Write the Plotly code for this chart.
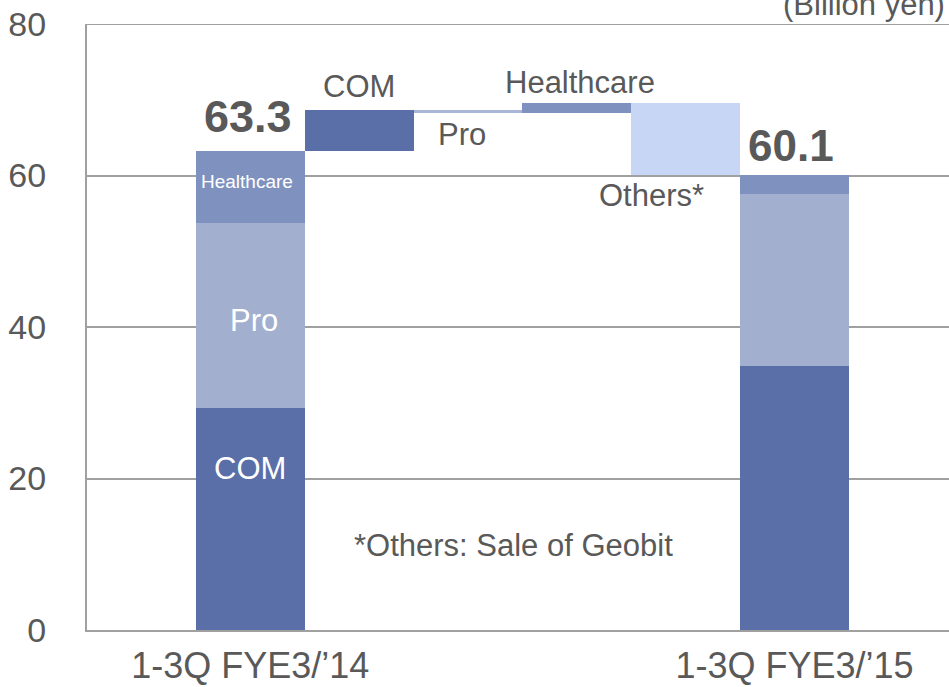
import plotly.graph_objects as go

# ---- data ----
categories = ["1-3Q FYE3/’14", "COM", "Pro", "Healthcare", "Others*", "1-3Q FYE3/’15"]
segments = ["COM", "Pro", "Healthcare"]
start_values = [29.3, 24.4, 9.6]      # 1-3Q FYE3/'14 breakdown (total 63.3)
end_values = [34.8, 22.7, 2.6]        # 1-3Q FYE3/'15 breakdown (total 60.1)
change_labels = ["COM", "Pro", "Healthcare", "Others*"]
change_values = [5.4, -0.4, 1.3, -9.5]
start_total_label = "63.3"
end_total_label = "60.1"
y_ticks = [0, 20, 40, 60, 80]

seg_colors = {"COM": "#5A6EA8", "Pro": "#A2AFCF", "Healthcare": "#7F92BF"}
change_colors = ["#5A6EA8", "#A9B5D6", "#7F92BF", "#C8D6F6"]
FONT = "Liberation Sans, Arial, sans-serif"
TXT = "#595959"
LINE = "#a0a0a0"

fig = go.Figure()

# stacked start / end bars
base_s, base_e = 0.0, 0.0
for seg, sv, ev in zip(segments, start_values, end_values):
    fig.add_trace(go.Bar(x=[0, 5], y=[sv, ev], base=[base_s, base_e],
                         width=1.0, marker=dict(color=seg_colors[seg], line=dict(width=0)),
                         showlegend=False, hoverinfo="skip"))
    base_s += sv
    base_e += ev

# floating change bars
level = sum(start_values)
for i, (lab, ch) in enumerate(zip(change_labels, change_values)):
    new_level = level + ch
    fig.add_trace(go.Bar(x=[i + 1], y=[abs(ch)], base=[min(level, new_level)],
                         width=1.0, marker=dict(color=change_colors[i], line=dict(width=0)),
                         showlegend=False, hoverinfo="skip"))
    level = new_level

def ann(x, y, text, size, color=TXT, bold=False, xref="x", yref="y", xanchor="center", yanchor="middle"):
    fig.add_annotation(x=x, y=y, xref=xref, yref=yref, text=f"<b>{text}</b>" if bold else text,
                       showarrow=False, xanchor=xanchor, yanchor=yanchor,
                       font=dict(family=FONT, size=size, color=color))

# totals
ann(-0.02, 67.8, start_total_label, 45, bold=True)
ann(4.97, 63.9, end_total_label, 44, bold=True)
# change labels
ann(1.0, 71.8, "COM", 31)
ann(1.95, 65.4, "Pro", 31)
ann(3.03, 72.3, "Healthcare", 31)
ann(3.69, 57.4, "Others*", 31)
# inside bar labels
ann(-0.03, 59.2, "Healthcare", 19, color="white")
ann(0.03, 40.8, "Pro", 31, color="white")
ann(0.0, 21.3, "COM", 31, color="white")
# footnote
ann(2.42, 11.1, "*Others: Sale of Geobit", 31)
# unit
ann(0.805, 1.033, "(Billion yen)", 31, xref="paper", yref="paper", xanchor="left")

# top frame line at 80
fig.add_shape(type="line", xref="paper", yref="y", x0=0, x1=1, y0=80, y1=80,
              line=dict(color=LINE, width=2))

fig.update_layout(
    width=949, height=687,
    margin=dict(l=87, r=0, t=24, b=57, autoexpand=False),
    paper_bgcolor="white", plot_bgcolor="white",
    barmode="overlay", bargap=0,
    font=dict(family=FONT, color=TXT),
    showlegend=False,
)
fig.update_xaxes(range=[-1.5, 6.42], tickvals=[0, 5], ticktext=[categories[0], categories[5]],
                 tickfont=dict(size=36, color=TXT, family=FONT), showgrid=False, zeroline=False,
                 showline=True, linecolor=LINE, linewidth=2, ticks="", ticklabelstandoff=3,
                 automargin=False)
fig.update_yaxes(range=[0, 80], tickvals=y_ticks, tickfont=dict(size=34, color=TXT, family=FONT),
                 showgrid=True, gridcolor=LINE, gridwidth=2, zeroline=False,
                 showline=True, linecolor=LINE, linewidth=2, ticks="", ticklabelstandoff=32,
                 automargin=False)

fig.write_html("out.html", config={"displayModeBar": False},
               post_script="document.body.style.margin='0';document.body.style.overflow='hidden';")
